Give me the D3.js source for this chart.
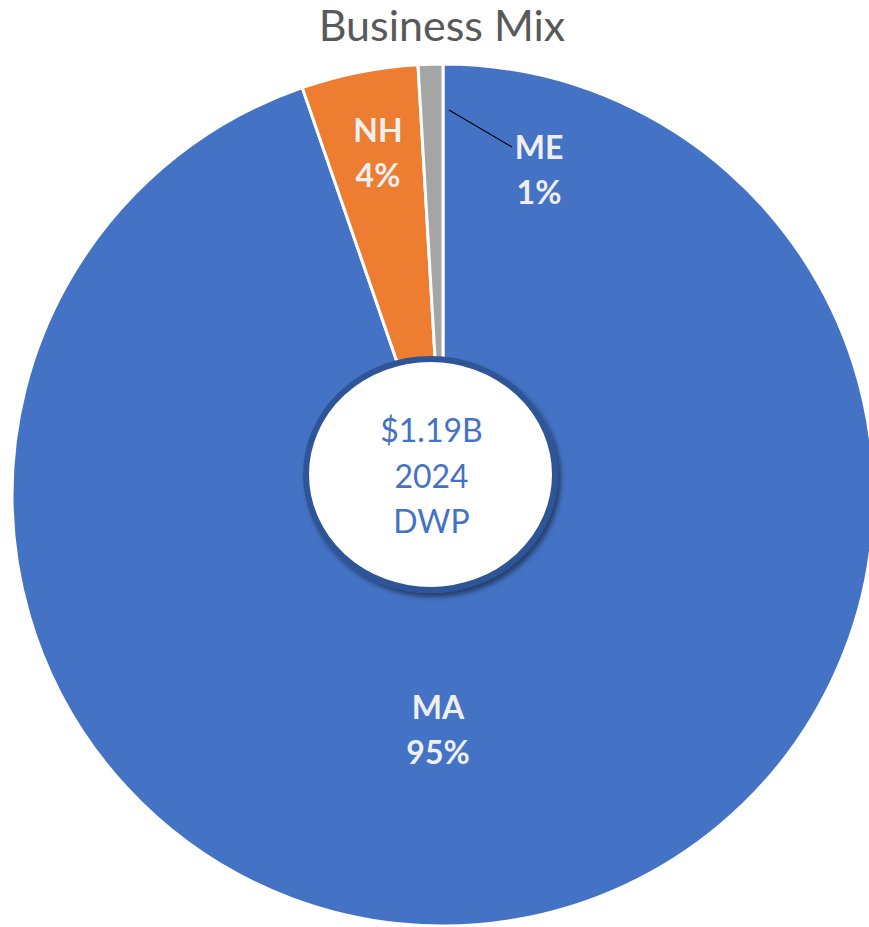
<!DOCTYPE html>
<html>
<head>
<meta charset="utf-8">
<script src="https://cdn.jsdelivr.net/npm/d3@7"></script>
<style>
  html, body { margin: 0; padding: 0; background: #fff; }
  svg { display: block; }
</style>
</head>
<body>
<svg id="chart" width="869" height="927"></svg>
<script>
// ---- data ----
const categories = ["MA", "NH", "ME"];
const values = [1127, 52, 11];            // $M of 2024 DWP
const colors = ["#4472C4", "#ED7D31", "#A5A5A5"];
const title = "Business Mix";
const centerLines = ["$1.19B", "2024", "DWP"];

// ---- layout ----
const W = 869, H = 927;
const cx = 443, cy = 495, R = 431;
const svg = d3.select("#chart");

const defs = svg.append("defs");
const f = defs.append("filter").attr("id", "sh")
  .attr("x", "-20%").attr("y", "-20%").attr("width", "140%").attr("height", "140%");
f.append("feDropShadow").attr("dx", 3).attr("dy", 4).attr("stdDeviation", 2.5)
  .attr("flood-color", "#000").attr("flood-opacity", 0.45);

// title
svg.append("text")
  .attr("x", 442).attr("y", 41)
  .attr("text-anchor", "middle")
  .attr("font-family", "Lato, 'Open Sans', sans-serif")
  .attr("font-size", 43)
  .attr("fill", "#595959")
  .text(title);

const total = d3.sum(values);
const data = categories.map((c, i) => ({ cat: c, value: values[i], color: colors[i] }));

const pie = d3.pie().sort(null).value(d => d.value).startAngle(0).endAngle(2 * Math.PI);
const arc = d3.arc().innerRadius(0).outerRadius(R);
const arcs = pie(data);

const g = svg.append("g").attr("transform", `translate(${cx},${cy})`);
g.selectAll("path.slice").data(arcs).enter().append("path")
  .attr("class", "slice")
  .attr("d", arc)
  .attr("fill", d => d.data.color)
  .attr("stroke", "#fff")
  .attr("stroke-width", 3)
  .attr("stroke-linejoin", "round");

// data labels (offsets relative to pie centre, as placed in the reference)
const labelOffsets = { MA: [-5, 224], NH: [-65, -353], ME: [96, -336] };
const lineGap = 45;
arcs.forEach(a => {
  const [dx, dy] = labelOffsets[a.data.cat];
  const pct = Math.round(a.data.value / total * 100) + "%";
  const t = g.append("text")
    .attr("text-anchor", "middle")
    .attr("font-family", "Lato, 'Open Sans', sans-serif")
    .attr("font-weight", "bold")
    .attr("font-size", 32)
    .attr("fill", "#EFEFEF");
  t.append("tspan").attr("x", dx).attr("y", dy).text(a.data.cat);
  t.append("tspan").attr("x", dx).attr("y", dy + lineGap).text(pct);
});

// leader line for ME
{
  const me = arcs.find(a => a.data.cat === "ME");
  const [dx, dy] = labelOffsets.ME;
  const ang = me.endAngle;
  const rs = 385;
  const sx = rs * Math.sin(ang) + 6, sy = -rs * Math.cos(ang);
  g.append("line")
    .attr("x1", sx).attr("y1", sy)
    .attr("x2", dx - 27).attr("y2", dy - 12)
    .attr("stroke", "#000").attr("stroke-width", 1.2);
}

// centre badge
const hx = 430.5, hy = 474.5;
svg.append("ellipse")
  .attr("cx", hx).attr("cy", hy)
  .attr("rx", 124.5).attr("ry", 115.5)
  .attr("fill", "#fff")
  .attr("stroke", "#2F5597")
  .attr("stroke-width", 6)
  .attr("filter", "url(#sh)");

const ct = svg.append("text")
  .attr("text-anchor", "middle")
  .attr("font-family", "Lato, 'Open Sans', sans-serif")
  .attr("font-size", 32)
  .attr("fill", "#4472C4");
centerLines.forEach((s, i) => {
  ct.append("tspan").attr("x", 431.5).attr("y", 442 + i * 45.5).text(s);
});
</script>
</body>
</html>
